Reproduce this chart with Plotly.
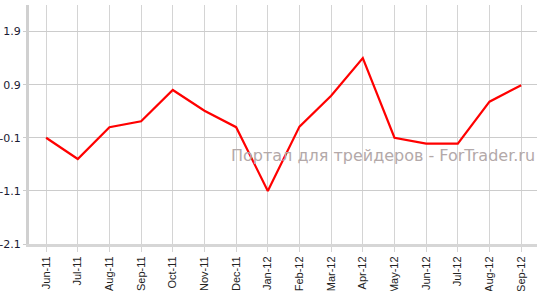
import plotly.graph_objects as go

months = ["Jun-11", "Jul-11", "Aug-11", "Sep-11", "Oct-11", "Nov-11", "Dec-11", "Jan-12",
          "Feb-12", "Mar-12", "Apr-12", "May-12", "Jun-12", "Jul-12", "Aug-12", "Sep-12"]
values = [-0.1, -0.5, 0.1, 0.21, 0.8, 0.41, 0.1, -1.1,
          0.11, 0.69, 1.4, -0.1, -0.21, -0.21, 0.58, 0.89]
y_ticks = [-2.1, -1.1, -0.1, 0.9, 1.9]

idx = list(range(len(months)))

fig = go.Figure()
fig.add_trace(go.Scatter(x=idx, y=values, mode="lines",
                         line=dict(color="#ff0000", width=2.2), hoverinfo="skip"))

fig.update_layout(
    width=543, height=291,
    margin=dict(l=29, r=6, t=5, b=47),
    paper_bgcolor="white", plot_bgcolor="white",
    showlegend=False,
    xaxis=dict(
        range=[-0.54, 15.5], tickmode="array", tickvals=idx, ticktext=months,
        tickangle=-90, showgrid=True, gridcolor="#d4d4d4", gridwidth=1,
        ticks="outside", ticklen=5, tickcolor="#d4d4d4", tickwidth=1,
        showline=True, linecolor="#d6d6d6", linewidth=3,
        tickfont=dict(family="Liberation Sans, Arial", size=11, color="#222222"),
        zeroline=False, fixedrange=True, automargin=False,
    ),
    yaxis=dict(
        range=[-2.1, 2.4], tickmode="array", tickvals=y_ticks,
        ticktext=[f"{v:.1f}" for v in y_ticks],
        showgrid=True, gridcolor="#cccccc", gridwidth=1,
        ticks="outside", ticklen=3, tickcolor="#cccccc",
        showline=True, linecolor="#d0d0d0", linewidth=3,
        tickfont=dict(family="DejaVu Sans, Verdana", size=11, color="#1a1a33"),
        zeroline=False, fixedrange=True, automargin=False,
    ),
    annotations=[dict(
        text="Портал для трейдеров - ForTrader.ru",
        xref="paper", yref="paper", x=1.0, y=(244 - 156) / 239,
        xanchor="right", yanchor="middle", showarrow=False,
        font=dict(family="DejaVu Sans, Verdana", size=16, color="#b3a9a9"),
    )],
)

fig.write_html("out.html")
